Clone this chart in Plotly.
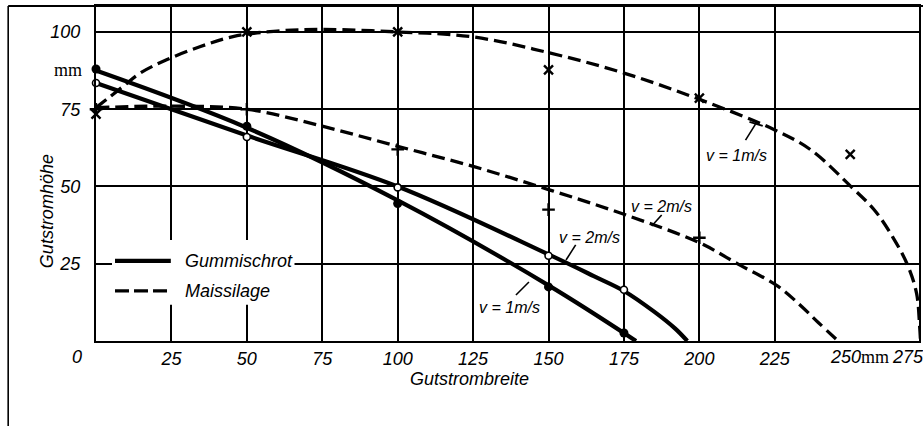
import plotly.graph_objects as go

# ---------------- data ----------------
# Gummischrot, v = 1 m/s (filled circles)
g1_pts_x = [0, 50, 100, 150, 175]
g1_pts_y = [88, 69.5, 44.5, 17.5, 2.6]
g1_curve_x = [0, 50, 100, 150, 179]
g1_curve_y = [87.5, 69, 45.5, 18, 0]

# Gummischrot, v = 2 m/s (open circles)
g2_pts_x = [0, 50, 100, 150, 175]
g2_pts_y = [83.5, 66, 49.7, 27.6, 16.6]
g2_curve_x = [0, 50, 100, 150, 165, 175, 185, 192, 196]
g2_curve_y = [83.5, 66.5, 50, 28, 21, 16.2, 9.5, 4, 0]

# Maissilage, v = 1 m/s (x marks)
m1_pts_x = [0, 50, 100, 150, 200, 250]
m1_pts_y = [73.4, 100, 100, 87.7, 78.6, 60.4]
m1_curve_x = [0, 8.5, 14.5, 23.4, 34.4, 45.4, 60, 75, 100, 125, 150, 175, 200, 225, 237, 250, 258, 264, 269, 272, 273, 273.3]
m1_curve_y = [75.5, 82, 86.6, 91, 95.2, 98.5, 100.3, 100.8, 100, 98.4, 93.3, 86.7, 78.2, 68.3, 61.8, 50.2, 42.4, 33.8, 24.6, 15.4, 5, 0]

# Maissilage, v = 2 m/s (plus marks)
m2_pts_x = [0, 50, 100, 150, 200]
m2_pts_y = [75, 75, 62, 42.5, 33.4]
m2_curve_x = [0, 25, 50, 75, 100, 125, 150, 175, 200, 213, 225.6, 233, 239.4, 246]
m2_curve_y = [75.5, 76, 75, 69.5, 63, 56.5, 49, 41, 31.8, 24.8, 18, 12, 6, 0]

x_ticks = [25, 50, 75, 100, 125, 150, 175, 200, 225]
y_ticks = [25, 50, 75, 100]
x_extra_ticks = ["250", "275"]

FONT = "Liberation Sans, Arial, sans-serif"
SERIF = "Liberation Serif, serif"

fig = go.Figure()

def curve(x, y, width, dash):
    fig.add_trace(go.Scatter(x=x, y=y, mode="lines",
                             line=dict(color="black", width=width, dash=dash, shape="spline", smoothing=1.0),
                             hoverinfo="skip", showlegend=False, cliponaxis=False))

curve(g1_curve_x, g1_curve_y, 4.2, "solid")
curve(g2_curve_x, g2_curve_y, 4.2, "solid")
curve(m1_curve_x, m1_curve_y, 3.3, "13px,6px")
curve(m2_curve_x, m2_curve_y, 3.3, "13px,6px")

fig.add_trace(go.Scatter(x=g1_pts_x, y=g1_pts_y, mode="markers", cliponaxis=False,
                         marker=dict(symbol="circle", size=9, color="black"), showlegend=False))
fig.add_trace(go.Scatter(x=g2_pts_x, y=g2_pts_y, mode="markers", cliponaxis=False,
                         marker=dict(symbol="circle", size=7, color="white", line=dict(color="black", width=1.6)),
                         showlegend=False))
fig.add_trace(go.Scatter(x=m1_pts_x, y=m1_pts_y, mode="markers", cliponaxis=False,
                         marker=dict(symbol="x-thin", size=9, line=dict(color="black", width=2.4)), showlegend=False))
fig.add_trace(go.Scatter(x=m2_pts_x, y=m2_pts_y, mode="markers", cliponaxis=False,
                         marker=dict(symbol="cross-thin", size=9, line=dict(color="black", width=2.4)), showlegend=False))

shapes = []
# custom legend block (white box over grid)
shapes.append(dict(type="rect", xref="x", yref="y", x0=5.3, x1=65.8, y0=11.7, y1=32.7,
                   fillcolor="white", line=dict(width=0), layer="between"))
shapes.append(dict(type="line", xref="x", yref="y", x0=6.3, x1=24.8, y0=25.9, y1=25.9,
                   line=dict(color="black", width=4.2)))
shapes.append(dict(type="line", xref="x", yref="y", x0=6.3, x1=24.8, y0=16.2, y1=16.2,
                   line=dict(color="black", width=3.3, dash="14px,5px")))
# leader lines for curve labels
for (x0, y0, x1, y1) in [(139.2, 14.9, 143.5, 19.1), (159.0, 31.1, 155.8, 26.2),
                         (187.5, 40.8, 184.2, 37.2), (215.3, 65.0, 218.6, 70.2)]:
    shapes.append(dict(type="line", xref="x", yref="y", x0=x0, y0=y0, x1=x1, y1=y1,
                       line=dict(color="black", width=1.6)))
shapes.append(dict(type="line", xref="x", yref="y", x0=216.6, y0=70.9, x1=221.0, y1=69.6,
                   line=dict(color="black", width=2)))
# outer frame of the scanned figure
shapes.append(dict(type="line", xref="paper", yref="paper", x0=-0.1067, x1=-0.1067, y0=-0.26, y1=1.0,
                   line=dict(color="black", width=1.6)))
shapes.append(dict(type="line", xref="paper", yref="paper", x0=-0.1067, x1=1.01, y0=1.0, y1=1.0,
                   line=dict(color="black", width=2)))

ann = []
def txt(x, y, s, size=18, italic=True, xref="x", yref="y", xanchor="center", angle=0, family=FONT):
    ann.append(dict(x=x, y=y, xref=xref, yref=yref, text=s, showarrow=False, xanchor=xanchor, yanchor="middle",
                    textangle=angle, font=dict(family=family, size=size, color="black",
                                               style="italic" if italic else "normal")))

txt(28.8, 25.9, "Gummischrot", xanchor="left")
txt(28.8, 16.2, "Maissilage", xanchor="left")
txt(137.2, 11.0, "v = 1m/s", size=16)
txt(163.6, 33.6, "v = 2m/s", size=16)
txt(187.6, 43.6, "v = 2m/s", size=16)
txt(212.4, 60.0, "v = 1m/s", size=16)
# axis titles (outside the data area -> paper coordinates)
txt(0.4533, -0.1134, "Gutstrombreite", xref="paper", yref="paper")
txt(-0.0594, 0.388, "Gutstromhöhe", angle=-90, xref="paper", yref="paper")
# units and extra tick labels
txt(-0.0345, 0.809, "mm", italic=False, family=SERIF, xref="paper", yref="paper")
txt(-0.023, -0.0478, "0", xref="paper", yref="paper")
txt(0.9103, -0.0478, x_extra_ticks[0], xref="paper", yref="paper")
txt(0.946, -0.0478, "mm", italic=False, family=SERIF, xref="paper", yref="paper")
txt(0.9648, -0.0478, x_extra_ticks[1], xanchor="left", xref="paper", yref="paper")

fig.update_layout(
    width=923, height=426,
    margin=dict(l=96, r=2, t=6, b=85),
    paper_bgcolor="white", plot_bgcolor="white",
    shapes=shapes, annotations=ann,
    showlegend=False,
    font=dict(family=FONT, size=18, color="black"),
)
fig.update_xaxes(range=[0, 272.8], tickvals=x_ticks, ticktext=[str(v) for v in x_ticks],
                 showgrid=True, gridcolor="black", gridwidth=1.6,
                 showline=True, linecolor="black", linewidth=2.3, mirror=True,
                 zeroline=False, ticks="", ticklabelstandoff=0,
                 tickfont=dict(family=FONT, size=18, style="italic"))
fig.update_yaxes(range=[0, 108.4], tickvals=y_ticks, ticktext=[str(v) for v in y_ticks],
                 showgrid=True, gridcolor="black", gridwidth=1.6,
                 showline=True, linecolor="black", linewidth=2.3, mirror=True,
                 zeroline=False, ticks="", ticklabelstandoff=10,
                 tickfont=dict(family=FONT, size=18, style="italic"))

fig.write_html("out.html", config={"displayModeBar": False},
               post_script="document.body.style.margin='0';document.body.style.padding='0';")
